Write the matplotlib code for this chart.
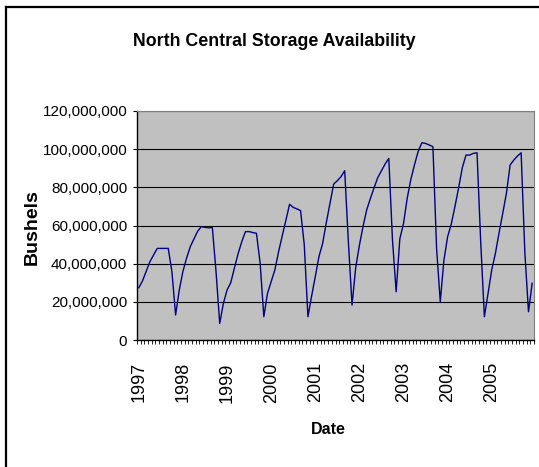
import numpy as np
import matplotlib
matplotlib.use('Agg')
import matplotlib.pyplot as plt
from matplotlib.ticker import FuncFormatter, FixedLocator
from matplotlib.lines import Line2D

plt.rcParams['font.family'] = ['Liberation Sans', 'DejaVu Sans']

# monthly storage availability, millions of bushels, Jan 1997 - Dec 2005
y1997 = [27.4, 31.0, 36.0, 41.0, 44.5, 48.0, 48.0, 48.0, 48.0, 35.8, 13.1, 26.2]
y1998 = [36.0, 43.0, 48.9, 53.0, 57.0, 59.4, 59.0, 58.8, 58.9, 35.8, 8.7, 19.2]
y1999 = [26.2, 30.0, 37.7, 45.2, 51.5, 56.8, 56.8, 56.3, 55.9, 40.2, 12.2, 24.4]
y2000 = [30.6, 36.7, 46.1, 54.5, 62.7, 71.1, 69.5, 68.7, 67.8, 50.0, 12.2, 23.0]
y2001 = [33.2, 43.7, 50.6, 61.5, 71.6, 81.7, 83.5, 85.6, 88.7, 51.5, 18.3, 38.0]
y2002 = [49.6, 59.6, 68.3, 74.2, 79.8, 85.1, 88.7, 92.2, 95.2, 52.4, 25.3, 53.0]
y2003 = [61.0, 74.2, 84.2, 91.9, 98.9, 103.4, 103.0, 102.2, 101.3, 48.0, 20.1, 41.9]
y2004 = [54.1, 60.8, 70.0, 79.8, 90.3, 96.9, 96.9, 97.8, 98.1, 51.5, 12.2, 24.4]
y2005 = [36.7, 45.4, 56.2, 66.4, 76.9, 91.7, 94.3, 96.4, 98.1, 46.3, 14.8, 29.7]

years = ['1997', '1998', '1999', '2000', '2001', '2002', '2003', '2004', '2005']
bushels = np.array(y1997 + y1998 + y1999 + y2000 + y2001 + y2002 + y2003 + y2004 + y2005) * 1e6
months = np.arange(len(bushels))

fig = plt.figure(figsize=(5.39, 4.67), dpi=100)
ax = fig.add_axes([137 / 539, 1 - 340 / 467, 397 / 539, 229 / 467])
ax.set_facecolor('#c0c0c0')

ax.plot(months, bushels, color='#000080', linewidth=1.0)

ax.set_xlim(-0.5, len(bushels) - 0.5)
ax.set_ylim(0, 120e6)
ax.set_yticks(np.arange(0, 120e6 + 1, 20e6))
ax.yaxis.set_major_formatter(FuncFormatter(lambda v, p: '{:,.0f}'.format(v)))
ax.grid(axis='y', color='black', linewidth=0.8)
ax.set_axisbelow(True)

# year labels on the first month of each year, ticks between every month
ax.set_xticks(months[::12])
ax.set_xticklabels(years, rotation=90)
ax.xaxis.set_minor_locator(FixedLocator(np.arange(-0.5, len(bushels), 1.0)))
ax.tick_params(axis='x', which='major', length=0, pad=16, labelsize=13)
ax.tick_params(axis='x', which='minor', length=3, width=0.6, direction='out')
ax.tick_params(axis='y', length=3, width=0.8, pad=4, labelsize=11)

ax.spines['top'].set_color('#808080')
ax.spines['right'].set_color('#808080')
for s in ['left', 'bottom']:
    ax.spines[s].set_color('black')
    ax.spines[s].set_linewidth(1.0)

fig.text(274 / 539, 1 - 42 / 467, 'North Central Storage Availability',
         ha='center', va='center', fontsize=12.8, fontweight='bold')
fig.text(32 / 539, 1 - 227 / 467, 'Bushels', rotation=90,
         ha='center', va='center', fontsize=14, fontweight='bold')
fig.text(328 / 539, 1 - 430 / 467, 'Date',
         ha='center', va='center', fontsize=11.5, fontweight='bold')

# chart area border (top and left edges visible in the crop)
fig.add_artist(Line2D([5.5 / 539, 1.0], [1 - 6.5 / 467] * 2, color='black', linewidth=1.6,
                      transform=fig.transFigure))
fig.add_artist(Line2D([5.5 / 539] * 2, [0.0, 1 - 6.5 / 467], color='black', linewidth=1.6,
                      transform=fig.transFigure))

plt.savefig('out.png', dpi=100)
